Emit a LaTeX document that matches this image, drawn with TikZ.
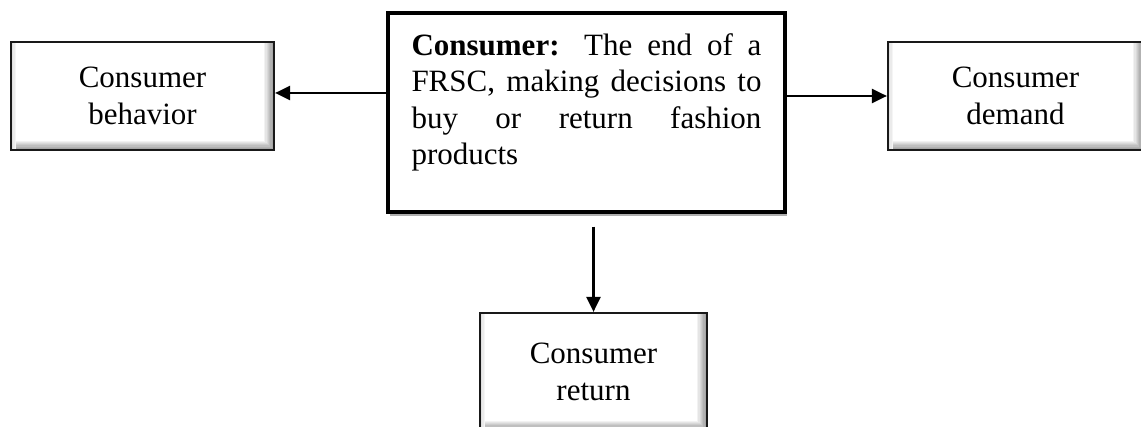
\documentclass[tikz,border=0pt]{standalone}
\usepackage{fontspec}
\setmainfont{Liberation Serif}
\usetikzlibrary{arrows.meta,shadows}
\tikzset{
  txt/.style={font=\fontsize{31}{37}\selectfont},
  bevelbox/.style={draw=black!90, line width=2.2pt, fill=white, align=center, inner sep=0pt,
    txt,
    path picture={
      \foreach \k in {1,...,8}{
        \pgfmathsetmacro{\g}{\k*5}
        \fill[black!\g] ([xshift=-10pt+\k*1.25pt-1.25pt]path picture bounding box.north east)
          rectangle ([xshift=-10pt+\k*1.25pt]path picture bounding box.south east);
        \fill[black!\g] ([yshift=9pt-\k*1.125pt+1.125pt]path picture bounding box.south west)
          rectangle ([yshift=9pt-\k*1.125pt]path picture bounding box.south east);
      }
      \foreach \k in {1,...,4}{
        \pgfmathsetmacro{\g}{20-\k*4}
        \fill[black!\g] ([xshift=\k*1.2pt-1.2pt]path picture bounding box.north west)
          rectangle ([xshift=\k*1.2pt]path picture bounding box.south west);
      }
    }},
  mainbox/.style={draw=black, line width=3.4pt, fill=white, inner sep=0pt, txt,
    drop shadow={shadow xshift=2pt, shadow yshift=-4pt, opacity=0.45, fill=black!70}},
  arr/.style={line width=2.4pt, -{Triangle[length=15pt,width=14pt]}}
}
\begin{document}
\begin{tikzpicture}[x=1pt,y=-1pt]
\useasboundingbox (0,0) rectangle (1141,427);
\node[mainbox, minimum width=397pt, minimum height=199pt] (c) at (586.5,112.5)
  {\parbox[c][158pt][t]{350pt}{\fontsize{31}{36.5}\selectfont\setlength\parindent{0pt}%
   \makebox[350pt][s]{\textbf{Consumer:} The end of a}\\
   \makebox[350pt][s]{FRSC, making decisions to}\\
   \makebox[350pt][s]{buy or return fashion}\\
   products}};
\node[bevelbox, minimum width=263pt, minimum height=108pt] (beh) at (142.5,96) {Consumer\\behavior};
\node[bevelbox, minimum width=255pt, minimum height=108pt] (dem) at (1015.5,96) {Consumer\\demand};
\node[bevelbox, minimum width=227pt, minimum height=117pt] (ret) at (593.5,371.5) {Consumer\\return};
\coordinate (lA) at ([yshift=3pt]beh.east);
\draw[arr] (c.west |- lA) -- (lA);
\draw[arr] (c.east |- dem.west) -- (dem.west);
\coordinate (cs) at ([yshift=-13pt]c.south);
\draw[arr] (cs -| ret.north) -- (ret.north);
\end{tikzpicture}
\end{document}
